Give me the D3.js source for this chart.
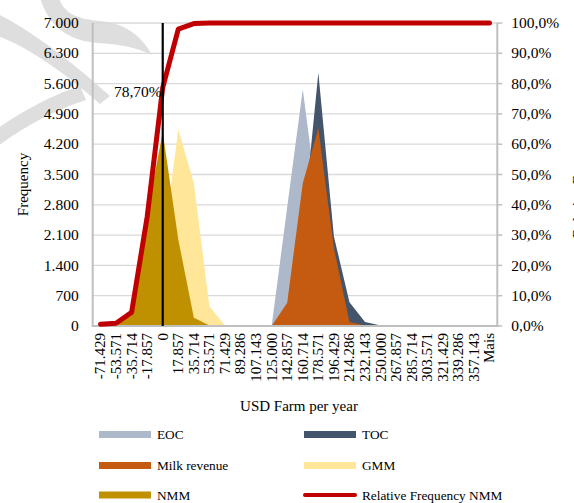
<!DOCTYPE html>
<html>
<head>
<meta charset="utf-8">
<script src="https://cdn.jsdelivr.net/npm/d3@7"></script>
<style>
  html, body { margin: 0; padding: 0; background: #fff; }
  svg { display: block; }
  text { font-family: "Liberation Serif", "Times New Roman", serif; fill: #000; }
</style>
</head>
<body>
<svg id="chart" width="574" height="503"></svg>
<script>
// Class bins (USD per farm per year)
const categories = ["-71.429", "-53.571", "-35.714", "-17.857", "0", "17.857", "35.714",
  "53.571", "71.429", "89.286", "107.143", "125.000", "142.857", "160.714", "178.571",
  "196.429", "214.286", "232.143", "250.000", "267.857", "285.714", "303.571", "321.429",
  "339.286", "357.143", "Mais"];

// Frequencies per bin
const eoc  = [0, 0, 0, 0, 0, 0, 0, 0, 0, 0, 0, 0, 2750, 5470, 2700, 400, 20, 0, 0, 0, 0, 0, 0, 0, 0, 0];
const toc  = [0, 0, 0, 0, 0, 0, 0, 0, 0, 0, 0, 0, 250, 2200, 5850, 2070, 550, 90, 10, 0, 0, 0, 0, 0, 0, 0];
const milk = [0, 0, 0, 0, 0, 0, 0, 0, 0, 0, 0, 0, 540, 3300, 4570, 1800, 90, 10, 0, 0, 0, 0, 0, 0, 0, 0];
const gmm  = [0, 0, 20, 250, 1800, 4540, 3300, 450, 20, 0, 0, 0, 0, 0, 0, 0, 0, 0, 0, 0, 0, 0, 0, 0, 0, 0];
const nmm  = [60, 30, 250, 2600, 4480, 2000, 190, 10, 0, 0, 0, 0, 0, 0, 0, 0, 0, 0, 0, 0, 0, 0, 0, 0, 0, 0];

// Cumulative relative frequency of NMM (%)
const relFreqNmm = [0.6, 0.9, 4.5, 36, 78.7, 98, 99.8, 100, 100, 100, 100, 100, 100, 100, 100,
  100, 100, 100, 100, 100, 100, 100, 100, 100, 100, 100];

// Axis ticks
const freqTicks = [0, 700, 1400, 2100, 2800, 3500, 4200, 4900, 5600, 6300, 7000];
const pctTicks = [0, 0.1, 0.2, 0.3, 0.4, 0.5, 0.6, 0.7, 0.8, 0.9, 1.0];

// Marked bin and its cumulative label
const markedBin = "0";

const series = [
  { name: "EOC", values: eoc, color: "#adb9ca" },
  { name: "TOC", values: toc, color: "#44546a" },
  { name: "Milk revenue", values: milk, color: "#c55a11" },
  { name: "GMM", values: gmm, color: "#ffe699" },
  { name: "NMM", values: nmm, color: "#bf9000" }
];

const ptBR = d3.formatLocale({ decimal: ",", thousands: ".", grouping: [3], currency: ["R$", ""] });
const fmtFreq = ptBR.format(",.0f");
const fmtPct = ptBR.format(".1%");
const fmtLabel = ptBR.format(".2%");

const svg = d3.select("#chart");
const plotL = 92.7, plotR = 497.3, plotT = 23, plotB = 326;

const x = d3.scaleBand().domain(categories).range([plotL, plotR]).padding(0);
const cx = c => x(c) + x.bandwidth() / 2;
const y = d3.scaleLinear().domain([0, 7000]).range([plotB, plotT]);
const y2 = d3.scaleLinear().domain([0, 1]).range([plotB, plotT]);

// Background watermark strokes
const wm = svg.append("g").attr("fill", "#dedede").attr("stroke", "none");
wm.append("path").attr("d", "M40,-2 L59,-2 C64,14 78,19 100,21 C122,23 140,33 152,55 C136,47 118,44 98,43 C72,41 50,30 40,-2 Z");
wm.append("path").attr("d", "M-2,14 C30,30 70,60 110,96 L100,104 C66,74 30,48 -2,36 Z");
wm.append("path").attr("d", "M-2,128 C25,110 50,96 80,86 L86,100 C56,110 28,124 -2,146 Z");

// Gridlines
svg.append("g").selectAll("line").data(freqTicks).join("line")
  .attr("x1", plotL).attr("x2", plotR)
  .attr("y1", d => y(d)).attr("y2", d => y(d))
  .attr("stroke", "#d9d9d9").attr("stroke-width", 1.3);

// Area series
const area = d3.area()
  .x((d, i) => cx(categories[i]))
  .y0(y(0))
  .y1(d => y(d));
svg.append("g").selectAll("path").data(series).join("path")
  .attr("d", s => area(s.values))
  .attr("fill", s => s.color);

// Axes lines
svg.append("line").attr("x1", plotL).attr("x2", plotL).attr("y1", plotT).attr("y2", plotB)
  .attr("stroke", "#bfbfbf").attr("stroke-width", 2);
svg.append("line").attr("x1", plotR).attr("x2", plotR).attr("y1", plotT).attr("y2", plotB)
  .attr("stroke", "#bfbfbf").attr("stroke-width", 2);
svg.append("line").attr("x1", plotL - 1).attr("x2", plotR + 1).attr("y1", plotB).attr("y2", plotB)
  .attr("stroke", "#bfbfbf").attr("stroke-width", 2);
svg.append("g").selectAll("line").data(pctTicks).join("line")
  .attr("x1", plotR).attr("x2", plotR + 5)
  .attr("y1", d => y2(d)).attr("y2", d => y2(d))
  .attr("stroke", "#bfbfbf").attr("stroke-width", 1.5);

// Cumulative line
const line = d3.line()
  .x((d, i) => cx(categories[i]))
  .y(d => y2(d / 100));
svg.append("path").attr("d", line(relFreqNmm))
  .attr("fill", "none").attr("stroke", "#c00000").attr("stroke-width", 5)
  .attr("stroke-linejoin", "round").attr("stroke-linecap", "round");

// Marker line at the zero bin
const mi = categories.indexOf(markedBin);
svg.append("line")
  .attr("x1", cx(markedBin)).attr("x2", cx(markedBin))
  .attr("y1", plotT).attr("y2", plotB)
  .attr("stroke", "#000").attr("stroke-width", 2.2);
svg.append("text")
  .attr("x", cx(markedBin) - 1).attr("y", y2(relFreqNmm[mi] / 100) + 9.5)
  .attr("text-anchor", "end").attr("font-size", 15.5)
  .text(fmtLabel(relFreqNmm[mi] / 100));

// Left tick labels
svg.append("g").selectAll("text").data(freqTicks).join("text")
  .attr("x", plotL - 14).attr("y", d => y(d)).attr("dy", "0.33em")
  .attr("text-anchor", "end").attr("font-size", 15.5)
  .text(d => fmtFreq(d));

// Right tick labels
svg.append("g").selectAll("text").data(pctTicks).join("text")
  .attr("x", plotR + 14).attr("y", d => y2(d)).attr("dy", "0.33em")
  .attr("text-anchor", "start").attr("font-size", 15.5)
  .text(d => fmtPct(d));

// Category labels
svg.append("g").selectAll("text").data(categories).join("text")
  .attr("transform", d => `translate(${cx(d)},${plotB + 7}) rotate(-90)`)
  .attr("dy", "0.33em")
  .attr("text-anchor", "end").attr("font-size", 15)
  .text(d => d);

// Axis titles
svg.append("text")
  .attr("transform", `translate(28,${(plotT + plotB) / 2 + 10}) rotate(-90)`)
  .attr("text-anchor", "middle").attr("font-size", 15)
  .text("Frequency");
svg.append("text")
  .attr("transform", `translate(583,${(plotT + plotB) / 2 + 5}) rotate(-90)`)
  .attr("text-anchor", "middle").attr("font-size", 15)
  .text("Relative Frequency");
svg.append("text")
  .attr("x", 299).attr("y", 411)
  .attr("text-anchor", "middle").attr("font-size", 15)
  .text("USD Farm per year");

// Legend
const legendItems = [
  { name: "EOC", color: "#adb9ca", type: "area" },
  { name: "TOC", color: "#44546a", type: "area" },
  { name: "Milk revenue", color: "#c55a11", type: "area" },
  { name: "GMM", color: "#ffe699", type: "area" },
  { name: "NMM", color: "#bf9000", type: "area" },
  { name: "Relative Frequency NMM", color: "#c00000", type: "line" }
];
const colX = [99, 304], rowY = [434.5, 465.5, 495];
const lg = svg.append("g").selectAll("g").data(legendItems).join("g")
  .attr("transform", (d, i) => `translate(${colX[i % 2]},${rowY[Math.floor(i / 2)]})`);
lg.filter(d => d.type === "area").append("rect")
  .attr("x", 0).attr("y", -3.5).attr("width", 52).attr("height", 7)
  .attr("fill", d => d.color);
lg.filter(d => d.type === "line").append("line")
  .attr("x1", 1).attr("x2", 51).attr("y1", 0).attr("y2", 0)
  .attr("stroke", d => d.color).attr("stroke-width", 4).attr("stroke-linecap", "round");
lg.append("text")
  .attr("x", 58).attr("y", 4.5).attr("font-size", 13.3)
  .text(d => d.name);
</script>
</body>
</html>
